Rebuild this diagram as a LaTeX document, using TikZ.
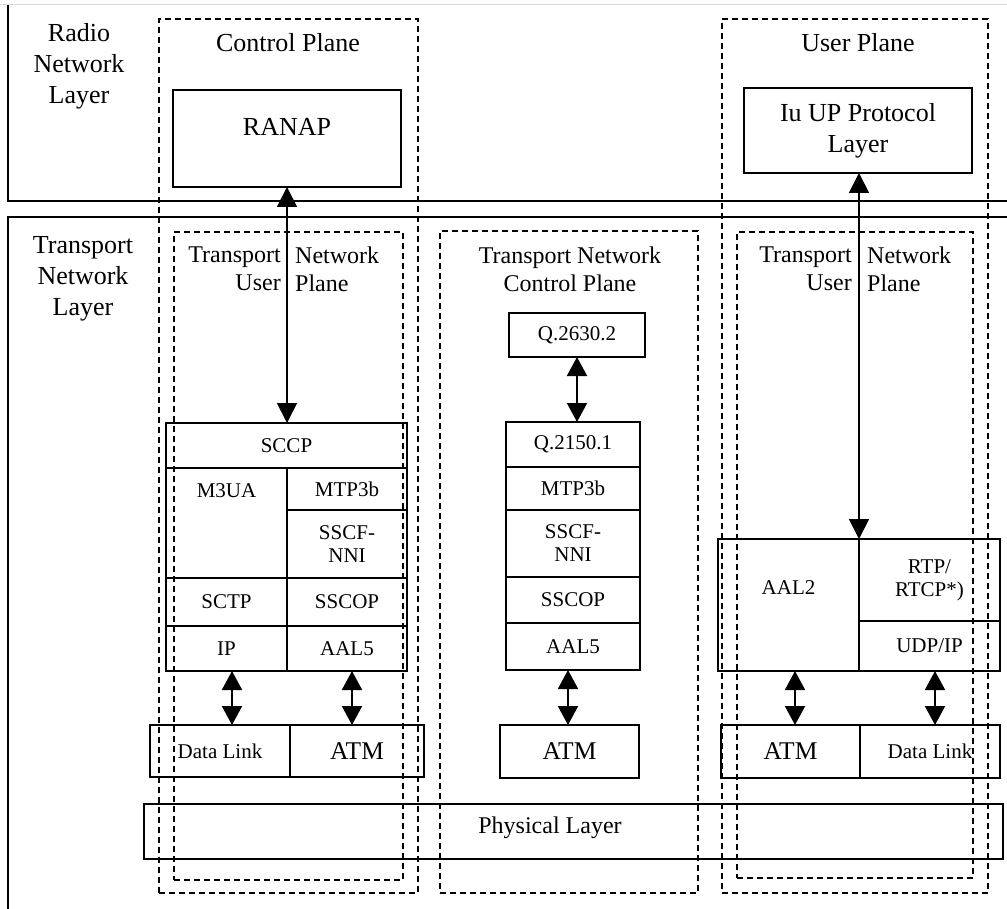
\documentclass[tikz,border=0pt]{standalone}
\usepackage{fontspec}
\setmainfont{Liberation Serif}
\usetikzlibrary{arrows.meta}
\begin{document}
\begin{tikzpicture}[x=1pt,y=-1pt,
  box/.style={draw, line width=1.3pt, inner sep=0pt, outer sep=0pt, align=center, font=\fontsize{21}{23}\selectfont},
  dbox/.style={draw, line width=1.3pt, dash pattern=on 6pt off 4pt, inner sep=0pt, outer sep=0pt},
  txt/.style={inner sep=0pt, align=center, font=\fontsize{21}{23}\selectfont},
  big/.style={font=\fontsize{26}{31}\selectfont},
  mid/.style={font=\fontsize{24}{28}\selectfont},
  atmf/.style={font=\fontsize{25.5}{30}\selectfont},
  longarr/.style={line width=1.8pt, {Triangle[length=20pt,width=20pt]}-{Triangle[length=20pt,width=20pt]}},
  dblarr/.style={line width=2pt, {Triangle[length=19pt,width=20pt]}-{Triangle[length=19pt,width=20pt]}}
]
\useasboundingbox (0,0) rectangle (1007,909);

% layer frames
\draw[black!15, line width=1pt] (0,5) -- (1007,5);
\draw[line width=1.5pt] (8,5) -- (8,201) -- (1007,201);
\draw[line width=1.5pt] (1007,217) -- (8,217) -- (8,909);

% layer labels
\node[txt, big] (rnl) at (79,66) {Radio\\Network\\Layer};
\node[txt, big] (tnlay) at (83,279) {Transport\\Network\\Layer};

% dashed planes
\node[dbox, minimum width=259, minimum height=874] (cp) at (288.5,456) {};
\node[dbox, minimum width=266, minimum height=874] (up) at (855,456) {};
\node[dbox, minimum width=229, minimum height=648] (tnll) at (288.5,556) {};
\node[dbox, minimum width=258, minimum height=662] (tncp) at (569,562) {};
\node[dbox, minimum width=236, minimum height=646] (tnlr) at (855,555) {};

% plane titles
\node[txt, big] (cpt) at (288,43) {Control Plane};
\node[txt, big] (upt) at (858,43) {User Plane};
\node[txt, mid, anchor=east, align=right] (tul) at (281,269) {Transport\\User};
\node[txt, mid, anchor=west, align=left] (npl) at (295,269) {Network\\Plane};
\node[txt, mid] (tncpt) at (570,269) {Transport Network\\Control Plane};
\node[txt, mid, anchor=east, align=right] (tur) at (852,269) {Transport\\User};
\node[txt, mid, anchor=west, align=left] (npr) at (867,269) {Network\\Plane};

% radio network layer boxes
\node[box, minimum width=228, minimum height=97] (ranap) at (287,138.5) {};
\node[txt, big] (ranapt) at (287,127) {RANAP};
\node[box, big, minimum width=228, minimum height=85] (iuup) at (858,130.5) {Iu UP Protocol\\Layer};

% left stack
\node[box, minimum width=241, minimum height=45] (sccp) at (286.5,445.5) {SCCP};
\node[box, minimum width=121, minimum height=110] (m3ua) at (226.5,523) {};
\node[txt] (m3uat) at (226.5,491) {M3UA};
\node[box, minimum width=120, minimum height=42] (mtpl) at (347,489) {MTP3b};
\node[box, minimum width=120, minimum height=68] (sscfl) at (347,544) {SSCF-\\NNI};
\node[box, minimum width=121, minimum height=48] (sctp) at (226.5,602) {SCTP};
\node[box, minimum width=120, minimum height=48] (sscopl) at (347,602) {SSCOP};
\node[box, minimum width=121, minimum height=45] (ip) at (226.5,648.5) {IP};
\node[box, minimum width=120, minimum height=45] (aal5l) at (347,648.5) {AAL5};
\node[box, minimum width=140, minimum height=52] (dll) at (220,751) {Data Link};
\node[box, atmf, minimum width=134, minimum height=52] (atml) at (357,751) {ATM};

% middle stack
\node[box, minimum width=136, minimum height=44] (q2630) at (577,335) {Q.2630.2};
\node[box, minimum width=134, minimum height=45] (q2150) at (573,444.5) {Q.2150.1};
\node[box, minimum width=134, minimum height=43] (mtpm) at (573,488.5) {MTP3b};
\node[box, minimum width=134, minimum height=67] (sscfm) at (573,543.5) {SSCF-\\NNI};
\node[box, minimum width=134, minimum height=46] (sscopm) at (573,600) {SSCOP};
\node[box, minimum width=134, minimum height=47] (aal5m) at (573,646.5) {AAL5};
\node[box, atmf, minimum width=139, minimum height=53] (atmm) at (569.5,751.5) {ATM};

% right stack
\node[box, minimum width=141, minimum height=132] (aal2) at (788.5,605) {};
\node[txt] (aal2t) at (788.5,588) {AAL2};
\node[box, minimum width=141, minimum height=82] (rtp) at (929.5,580) {RTP/\\RTCP*)};
\node[box, minimum width=141, minimum height=50] (udp) at (929.5,646) {UDP/IP};
\node[box, atmf, minimum width=139, minimum height=53] (atmr) at (790.5,751.5) {ATM};
\node[box, minimum width=140, minimum height=53] (dlr) at (930,751.5) {Data Link};

% physical layer
\node[box, minimum width=859, minimum height=55] (phys) at (573.5,831.5) {};
\node[txt, mid] (physt) at (550,828) {Physical Layer};

% connectors
\draw[longarr] (ranap.south) -- (ranap.south |- sccp.north);
\draw[longarr] (iuup.south -| rtp.north west) -- (rtp.north west);
\draw[dblarr] (q2630.south) -- (q2630.south |- q2150.north);
\draw[dblarr] ([xshift=5.5pt]ip.south) -- ([xshift=5.5pt]ip.south |- dll.north);
\draw[dblarr] ([xshift=5pt]aal5l.south) -- ([xshift=5pt]aal5l.south |- atml.north);
\draw[dblarr] ([xshift=-5pt]aal5m.south) -- ([xshift=-5pt]aal5m.south |- atmm.north);
\draw[dblarr] ([xshift=6.5pt]aal2.south) -- ([xshift=6.5pt]aal2.south |- atmr.north);
\draw[dblarr] ([xshift=5.5pt]udp.south) -- ([xshift=5.5pt]udp.south |- dlr.north);
\end{tikzpicture}
\end{document}
